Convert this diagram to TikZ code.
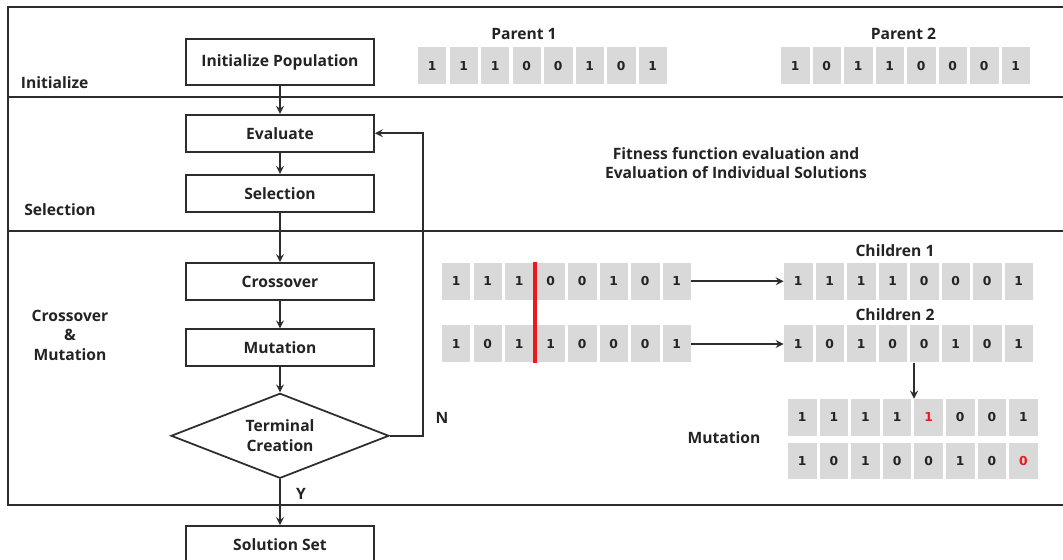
\documentclass[tikz,border=0pt]{standalone}
\usepackage{fontspec}
\setmainfont{Open Sans}
\newfontfamily\bitfont{DejaVu Sans}
\usetikzlibrary{positioning}
\usetikzlibrary{shapes.geometric}
\usetikzlibrary{calc}
\definecolor{cellgray}{RGB}{217,217,217}
\definecolor{linegray}{RGB}{45,45,45}
\definecolor{txtgray}{RGB}{35,35,35}
\definecolor{mutred}{RGB}{235,25,25}

\tikzset{
  stepbox/.style={draw=linegray,line width=1pt,minimum width=3.76cm,minimum height=0.74cm,inner sep=0pt,font=\fontsize{8.9}{11}\selectfont\bfseries,text=txtgray},
  decision/.style={diamond,aspect=2.56,draw=linegray,line width=1pt,minimum width=4.36cm,minimum height=1.7cm,inner sep=0pt,align=center,font=\fontsize{8.9}{11.2}\selectfont\bfseries,text=txtgray},
  bit/.style={fill=cellgray,minimum width=0.57cm,minimum height=0.74cm,inner sep=0pt,font=\bitfont\fontsize{7}{8}\selectfont\bfseries,text=txtgray},
  lbl/.style={font=\fontsize{8.9}{11}\selectfont\bfseries,text=txtgray,inner sep=0pt},
  flow/.style={-stealth,draw=linegray,line width=1pt},
  frame/.style={draw=linegray,line width=1.2pt},
  cutline/.style={draw=mutred,line width=1.8pt}
}

\begin{document}
\begin{tikzpicture}[x=0.02cm,y=-0.02cm]
\useasboundingbox (0,0) rectangle (1063,560);
\clip (0,0) rectangle (1063,560);

    % stages
	\draw[frame] (8,7) rectangle (1080,505);
	\draw[frame] (8,96.7) -- (1080,96.7);
	\draw[frame] (8,230.7) -- (1080,230.7);
	\node[lbl,anchor=west] (initlbl) at (20.5,82.3) {Initialize};
	\node[lbl,anchor=west] (sellbl) at (24,209.3) {Selection};
	\node[lbl,align=center] (xmlbl) at (70,335.3) {Crossover\\\&\\Mutation};

    % flow chart
	\node[stepbox,minimum height=0.92cm] (init) at (280,62.3) {Initialize Population};
	\node[stepbox] (eval) at (280,133.2) {Evaluate};
	\node[stepbox] (sel) at (280,193.3) {Selection};
	\node[stepbox] (cross) at (280,281.5) {Crossover};
	\node[stepbox] (mut) at (280,347.8) {Mutation};
	\node[decision] (term) at (280,435.8) {Terminal\\Creation};
	\node[stepbox] (sol) at (280,544.5) {Solution Set};

    % flow connectors
	\draw[flow] (init) -- (eval);
	\draw[flow] (eval) -- (sel);
	\draw[flow] (sel) -- (cross);
	\draw[flow] (cross) -- (mut);
	\draw[flow] (mut) -- (term);
	\draw[flow] (term) -- (sol);
	\coordinate (back) at (423,435.8);
	\draw[flow] (term.east) -- (back) |- (eval.east);
	\node[lbl] (no) at (442,418.3) {N};
	\node[lbl] (yes) at (301,494) {Y};

    % parents
	\node[lbl] (p1lbl) at (524,34.3) {Parent 1};
	\node[lbl] (p2lbl) at (903.5,34.3) {Parent 2};
	\foreach \b [count=\i] in {1,1,1,0,0,1,0,1} \node[bit] (pa\i) at (400.75+31.5*\i,66) {\b};
	\foreach \b [count=\i] in {1,0,1,1,0,0,0,1} \node[bit] (pb\i) at (763.75+31.5*\i,66) {\b};

    % fitness
	\node[lbl,align=center] (fitlbl) at (736,163) {Fitness function evaluation and\\Evaluation of Individual Solutions};

    % crossover
	\foreach \b [count=\i] in {1,1,1,0,0,1,0,1} \node[bit] (xa\i) at (424.75+31.5*\i,281.3) {\b};
	\foreach \b [count=\i] in {1,0,1,1,0,0,0,1} \node[bit] (xb\i) at (424.75+31.5*\i,344) {\b};
	\draw[cutline] ($(xa3.north east)!.5!(xa4.north west)$) -- ($(xb3.south east)!.5!(xb4.south west)$);

    % children
	\node[lbl] (c1lbl) at (895,250.7) {Children 1};
	\node[lbl] (c2lbl) at (895,315) {Children 2};
	\foreach \b [count=\i] in {1,1,1,1,0,0,0,1} \node[bit] (ca\i) at (766.75+31.5*\i,281.3) {\b};
	\foreach \b [count=\i] in {1,0,1,0,0,1,0,1} \node[bit] (cb\i) at (766.75+31.5*\i,344) {\b};
	\draw[flow] (xa8) -- (ca1);
	\draw[flow] (xb8) -- (cb1);

    % mutation
	\node[lbl] (mlbl) at (724,438) {Mutation};
	\foreach \b/\c [count=\i] in {1/txtgray,1/txtgray,1/txtgray,1/txtgray,1/mutred,0/txtgray,0/txtgray,1/txtgray}
		\node[bit,text=\c] (ma\i) at (770.65+31.6*\i,417.5) {\b};
	\foreach \b/\c [count=\i] in {1/txtgray,0/txtgray,1/txtgray,0/txtgray,0/txtgray,1/txtgray,0/txtgray,0/mutred}
		\node[bit,text=\c] (mb\i) at (770.65+31.6*\i,461) {\b};
	\draw[flow] (ma5.north west |- cb5.south) -- (ma5.north west);
\end{tikzpicture}
\end{document}
